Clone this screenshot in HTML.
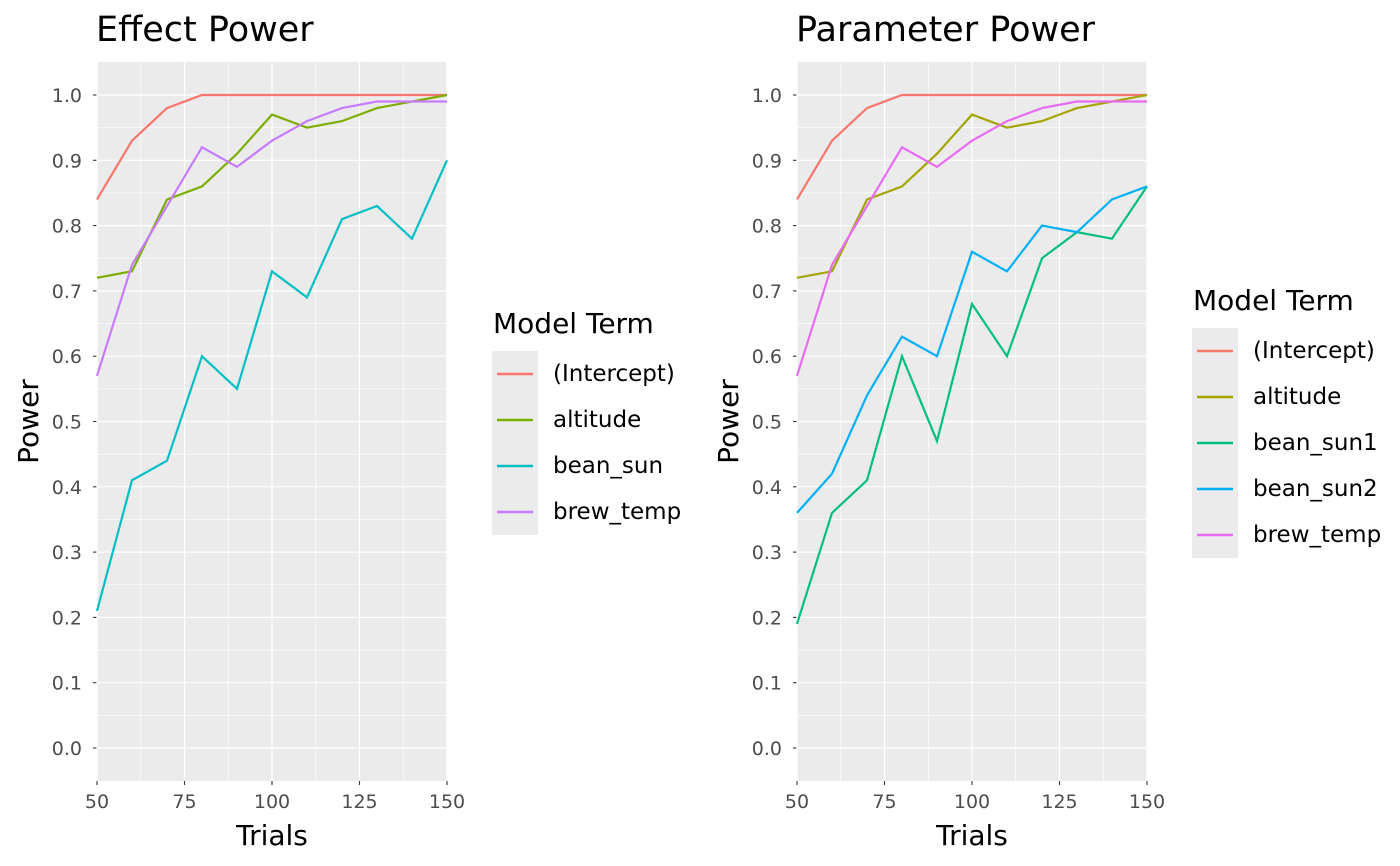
<!DOCTYPE html>
<html><head><meta charset="utf-8"><style>
body{margin:0;background:#fff;}
svg{display:block;font-family:"DejaVu Sans","Liberation Sans",sans-serif;}
</style></head><body>
<svg id="chart" width="1400" height="866" xmlns="http://www.w3.org/2000/svg"></svg>
<script>
const trials=[50,60,70,80,90,100,110,120,130,140,150];
const xTicks=[50,75,100,125,150];
const yTicks=[0,0.1,0.2,0.3,0.4,0.5,0.6,0.7,0.8,0.9,1.0];
const intercept=[.84,.93,.98,1,1,1,1,1,1,1,1];
const altitude=[.72,.73,.84,.86,.91,.97,.95,.96,.98,.99,1.0];
const beanSun=[.21,.41,.44,.60,.55,.73,.69,.81,.83,.78,.90];
const brewTemp=[.57,.74,.83,.92,.89,.93,.96,.98,.99,.99,.99];
const beanSun1=[.19,.36,.41,.60,.47,.68,.60,.75,.79,.78,.86];
const beanSun2=[.36,.42,.54,.63,.60,.76,.73,.80,.79,.84,.86];
const leftNames=["(Intercept)","altitude","bean_sun","brew_temp"];
const rightNames=["(Intercept)","altitude","bean_sun1","bean_sun2","brew_temp"];

const NS="http://www.w3.org/2000/svg";
const svg=document.getElementById('chart');
function mk(tag,attrs,parent){const e=document.createElementNS(NS,tag);for(const k in attrs)e.setAttribute(k,attrs[k]);(parent||svg).appendChild(e);return e;}

function panel(x0,title,series,names,colors,legX,keyC,id){
  const x1=x0+350, yTop=62, yBot=781;
  const sx=v=>x0+(v-50)/100*350;
  const sy=v=>748-v*653;
  const g=mk('g',{});
  
  
  const bg=mk('rect',{x:x0,y:yTop,width:350,height:yBot-yTop,fill:'#ebebeb'},g);
  
  
  for(let i=0;i<yTicks.length-1;i++){const v=(yTicks[i]+yTicks[i+1])/2;mk('line',{x1:x0,x2:x1,y1:sy(v),y2:sy(v),stroke:'#fff','stroke-width':0.6},g);}
  for(let i=0;i<xTicks.length-1;i++){const v=(xTicks[i]+xTicks[i+1])/2;mk('line',{x1:sx(v),x2:sx(v),y1:yTop,y2:yBot,stroke:'#fff','stroke-width':0.6},g);}
  yTicks.forEach(v=>{
    mk('line',{x1:x0,x2:x1,y1:sy(v),y2:sy(v),stroke:'#fff','stroke-width':1.2},g);
    mk('line',{x1:x0-4,x2:x0,y1:sy(v),y2:sy(v),stroke:'#333','stroke-width':1.1},g);
    const t=mk('text',{x:x0-15,y:sy(v)+7,'text-anchor':'end','font-size':19,fill:'#4d4d4d'},g);t.textContent=v.toFixed(1);
    
    
  });
  xTicks.forEach(v=>{
    mk('line',{x1:sx(v),x2:sx(v),y1:yTop,y2:yBot,stroke:'#fff','stroke-width':1.2},g);
    mk('line',{x1:sx(v),x2:sx(v),y1:yBot,y2:yBot+4,stroke:'#333','stroke-width':1.1},g);
    const t=mk('text',{x:sx(v),y:yBot+27,'text-anchor':'middle','font-size':19,fill:'#4d4d4d'},g);t.textContent=v;
    
    
  });
  series.forEach((s,k)=>{
    const p=mk('polyline',{points:trials.map((t,i)=>sx(t)+','+sy(s[i])).join(' '),fill:'none',stroke:colors[k],'stroke-width':2.2},g);
    
    
  });
  const tt=mk('text',{x:x0-1,y:41,'font-size':35,fill:'#000'},g);tt.textContent=title;
  
  
  const xt=mk('text',{x:x0+175,y:845,'text-anchor':'middle','font-size':28,fill:'#000'},g);xt.textContent='Trials';
  
  
  const yt=mk('text',{x:0,y:0,transform:`translate(${x0-59},${(yTop+yBot)/2}) rotate(-90)`,'text-anchor':'middle','font-size':28,fill:'#000'},g);yt.textContent='Power';
  
  
  const lt=mk('text',{x:legX,y:keyC-41,'font-size':28,fill:'#000'},g);lt.textContent='Model Term';
  
  
  names.forEach((n,k)=>{
    const c=keyC+k*46;
    const r=mk('rect',{x:legX-1,y:c-23,width:46,height:46,fill:'#ebebeb'},g);
    
    
    mk('line',{x1:legX+4,x2:legX+40,y1:c,y2:c,stroke:colors[k],'stroke-width':2.5},g);
    const l=mk('text',{x:legX+60,y:c+7,'font-size':23,fill:'#000'},g);l.textContent=n;
    
    
  });
}
panel(97,'Effect Power',[intercept,altitude,beanSun,brewTemp],leftNames,['#F8766D','#7CAE00','#00BFC4','#C77CFF'],493,374,'effect');
panel(797,'Parameter Power',[intercept,altitude,beanSun1,beanSun2,brewTemp],rightNames,['#F8766D','#A3A500','#00BF7D','#00B0F6','#E76BF3'],1193,351,'parameter');
</script>
</body></html>
